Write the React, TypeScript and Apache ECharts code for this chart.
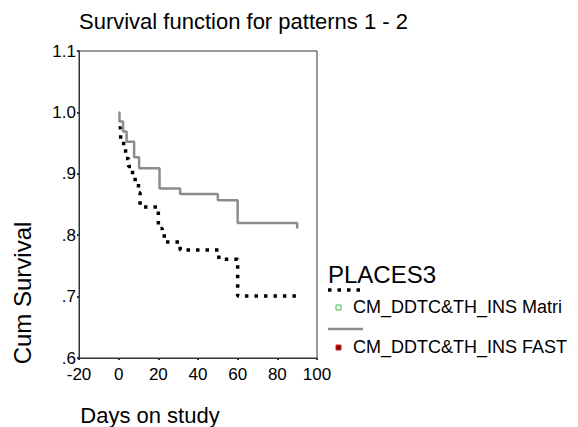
import React, { useEffect, useRef } from "react";
import * as echarts from "echarts";

// Kaplan-Meier step data
const matriDays = [0, 1, 2.5, 3.5, 5, 7, 8.3, 10, 10.8, 20, 22, 23, 31, 50.5, 60, 90];
const matriSurv = [0.975, 0.955, 0.942, 0.925, 0.912, 0.895, 0.885, 0.869, 0.846, 0.811, 0.803, 0.789, 0.776, 0.761, 0.701, 0.7];

const fastDays = [0, 0.4, 2.2, 4, 7.8, 10.3, 20.6, 31, 50, 60, 90];
const fastSurv = [1.0, 0.985, 0.969, 0.952, 0.927, 0.909, 0.876, 0.867, 0.857, 0.82, 0.811];

const xTicks = [-20, 0, 20, 40, 60, 80, 100];
const yTickLabels = [".6", ".7", ".8", ".9", "1.0", "1.1"];

const seriesNames = ["CM_DDTC&TH_INS Matri", "CM_DDTC&TH_INS FAST"];
const titleText = "Survival function for patterns 1 - 2";
const legendTitle = "PLACES3";
const xTitle = "Days on study";
const yTitle = "Cum Survival";

const FONT = "'Liberation Sans', Arial, sans-serif";

export default function App() {
  const ref = useRef<HTMLDivElement>(null);
  useEffect(() => {
    if (!ref.current) return;
    const chart = echarts.init(ref.current, undefined, { renderer: "svg" });
    const pair = (xs: number[], ys: number[]) => xs.map((x, i) => [x, ys[i]]);
    const txt = (text: string, x: number, y: number, size: number, extra: any = {}) => ({
      type: "text",
      x,
      y,
      ...extra,
      style: {
        text,
        fontSize: size,
        fontFamily: FONT,
        fill: "#000",
        verticalAlign: "middle",
        align: extra.align ?? "left",
      },
    });
    chart.setOption({
      animation: false,
      backgroundColor: "#fff",
      textStyle: { fontFamily: FONT },
      title: {
        text: titleText,
        left: 79,
        top: 10,
        padding: 0,
        textStyle: { fontSize: 22, fontWeight: "normal", color: "#000", fontFamily: FONT },
      },
      grid: {
        left: 79,
        top: 51,
        width: 238,
        height: 307,
        show: true,
        borderColor: "#333",
        borderWidth: 1,
        backgroundColor: "transparent",
      },
      xAxis: {
        type: "value",
        min: xTicks[0],
        max: xTicks[xTicks.length - 1],
        interval: 20,
        axisLine: { show: true, onZero: false, lineStyle: { color: "#333", width: 1 } },
        axisTick: { show: true, length: 2, lineStyle: { color: "#333", width: 2 } },
        axisLabel: { color: "#000", fontSize: 17, fontFamily: FONT, margin: 8 },
        splitLine: { show: false },
      },
      yAxis: {
        type: "value",
        min: 0.6,
        max: 1.1,
        interval: 0.1,
        axisLine: { show: true, onZero: false, lineStyle: { color: "#333", width: 1 } },
        axisTick: { show: true, length: 2, lineStyle: { color: "#333", width: 2 } },
        axisLabel: {
          color: "#000",
          fontSize: 17,
          fontFamily: FONT,
          margin: 3,
          padding: [0, 0, 6, 0],
          formatter: (v: number) => yTickLabels[Math.round((v - 0.6) * 10)] ?? "",
        },
        splitLine: { show: false },
      },
      series: [
        {
          name: seriesNames[0],
          type: "line",
          step: "end",
          showSymbol: false,
          data: pair(matriDays, matriSurv),
          lineStyle: { color: "#000", width: 3.5, type: [3.5, 6], cap: "butt" },
          z: 2,
        },
        {
          name: seriesNames[1],
          type: "line",
          step: "end",
          showSymbol: false,
          data: pair(fastDays, fastSurv),
          lineStyle: { color: "#8c8c8c", width: 2.5 },
          z: 3,
        },
      ],
      graphic: [
        txt(xTitle, 150, 415, 22, { align: "center" }),
        txt(yTitle, 22, 293, 24, { align: "center", rotation: Math.PI / 2 }),
        txt(legendTitle, 328, 274, 24),
        {
          type: "line",
          shape: { x1: 328, y1: 290, x2: 363, y2: 290 },
          style: { stroke: "#000", lineWidth: 3.5, lineDash: [3.5, 6] },
        },
        {
          type: "rect",
          shape: { x: 336, y: 305, width: 5, height: 5 },
          style: { fill: "#fff", stroke: "#44bb44", lineWidth: 1 },
        },
        txt(seriesNames[0], 353, 307, 18),
        {
          type: "line",
          shape: { x1: 328, y1: 329, x2: 363, y2: 329 },
          style: { stroke: "#8c8c8c", lineWidth: 2.5 },
        },
        {
          type: "rect",
          shape: { x: 336, y: 345, width: 5, height: 5 },
          style: { fill: "#7a0000", stroke: "#dd2222", lineWidth: 1 },
        },
        txt(seriesNames[1], 353, 347, 18),
      ],
    });
    return () => chart.dispose();
  }, []);
  return <div ref={ref} style={{ width: 578, height: 427, position: "absolute", left: 0, top: 0 }} />;
}
